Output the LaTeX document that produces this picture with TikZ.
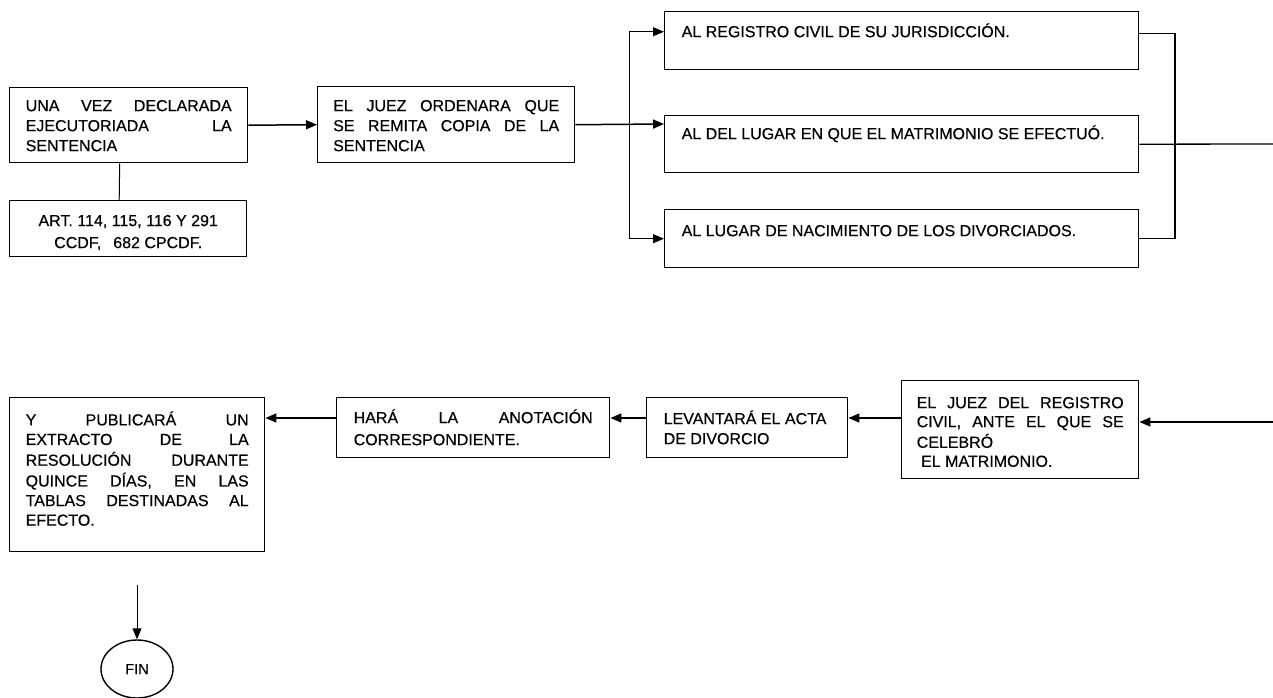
\documentclass[tikz,border=0pt]{standalone}
\usepackage{fontspec}
\setmainfont{Liberation Sans}[FakeBold=0.4]
\usetikzlibrary{arrows.meta,shapes.geometric,calc}
\newcommand{\jl}[1]{\makebox[\linewidth][s]{\strut #1}}
\newcommand{\nl}[1]{\strut #1}
\newcommand{\bxt}[5]{\parbox[c][#1pt][t]{#2pt}{\fontsize{16pt}{#3pt}\selectfont\vspace*{#4pt}#5}}
\tikzset{
  boxnode/.style={draw, line width=1.4pt, rectangle, anchor=north west, inner ysep=0pt, inner xsep=#1},
  arr/.style={line width=1.5pt, -{Triangle[length=11pt,width=9pt]}},
  thinarr/.style={line width=1pt, -{Triangle[length=11pt,width=9pt]}},
  thinline/.style={line width=1pt},
  midline/.style={line width=1.3pt}
}
\begin{document}
\begin{tikzpicture}[x=1pt,y=-1pt]
\useasboundingbox (0,0) rectangle (1273,697);
% top row
\node[boxnode=16pt] (A) at (9,87) {\bxt{75}{206}{20}{9.5}{\jl{UNA VEZ DECLARADA}\\\jl{EJECUTORIADA LA}\\\nl{SENTENCIA}}};
\node[boxnode=10pt] (B) at (9,200) {\bxt{56}{217}{22}{10}{\centering\strut ART. 114, 115, 116 Y 291\\\strut CCDF,\hspace{12pt}682 CPCDF.}};
\node[boxnode=15.5pt] (C) at (317,86) {\bxt{76}{226}{20}{10.5}{\jl{EL JUEZ ORDENARA QUE}\\\jl{SE REMITA COPIA DE LA}\\\nl{SENTENCIA}}};
\node[boxnode=17pt] (R1) at (664,11) {\bxt{58}{440}{20}{11.5}{\nl{AL REGISTRO CIVIL DE SU JURISDICCIÓN.}}};
\node[boxnode=17pt] (R2) at (664,115) {\bxt{57}{440}{20}{9.5}{\nl{AL DEL LUGAR EN QUE EL MATRIMONIO SE EFECTUÓ.}}};
\node[boxnode=17pt] (R3) at (664,209) {\bxt{58}{440}{20}{12.5}{\nl{AL LUGAR DE NACIMIENTO DE LOS DIVORCIADOS.}}};
% bottom row
\node[boxnode=16pt] (D) at (9,397) {\bxt{154}{223}{19.6}{13.8}{\jl{Y PUBLICARÁ UN}\\\jl{EXTRACTO DE LA}\\\jl{RESOLUCIÓN DURANTE}\\\jl{QUINCE DÍAS, EN LAS}\\\jl{TABLAS DESTINADAS AL}\\\nl{EFECTO.}}};
\node[boxnode=17pt] (E) at (336,397) {\bxt{60}{239}{22}{10.1}{\jl{HARÁ LA ANOTACIÓN}\\\nl{CORRESPONDIENTE.}}};
\node[boxnode=17pt] (F) at (646,397) {\bxt{60}{167}{20}{12.5}{\nl{LEVANTARÁ EL ACTA}\\\nl{DE DIVORCIO}}};
\node[boxnode=15pt] (G) at (901,380) {\bxt{98}{207}{19}{14.2}{\jl{EL JUEZ DEL REGISTRO}\\\jl{CIVIL, ANTE EL QUE SE}\\\nl{CELEBRÓ}\\\nl{\ EL MATRIMONIO.}}};
\node[draw, line width=1.4pt, ellipse, minimum width=72pt, minimum height=58pt, inner sep=0pt, font=\fontsize{14.5pt}{16pt}\selectfont] (FIN) at (137,669) {FIN};
% coordinates
\coordinate (sp) at (629,124);
\coordinate (rv) at (1175,33);
\coordinate (outR) at (1273,144);
\coordinate (inG) at (1273,422);
\coordinate (rowy) at (0,418);
\coordinate (finstart) at (137,585);
% connectors
\draw[arr] (A.east) -- (C.west);
\draw[thinline] ([xshift=-9pt]A.south) -- ([xshift=-9pt]B.north);
\draw[arr] (C.east) -- (R2.west |- sp);
\draw[thinarr] (sp) |- ([yshift=9pt]R1.west);
\draw[thinarr] (sp) |- (R3.west);
\draw[midline] ([yshift=7pt]R1.east) -| (rv) |- (R3.east);
\draw[midline] (R2.east) -- (outR);
\draw[arr] (inG) -- (G.east |- inG);
\draw[arr] (G.west |- rowy) -- (F.east |- rowy);
\draw[arr] (F.west |- rowy) -- (E.east |- rowy);
\draw[arr] (E.west |- rowy) -- (D.east |- rowy);
\draw[thinarr] (finstart) -- (FIN.north);
\end{tikzpicture}
\end{document}
